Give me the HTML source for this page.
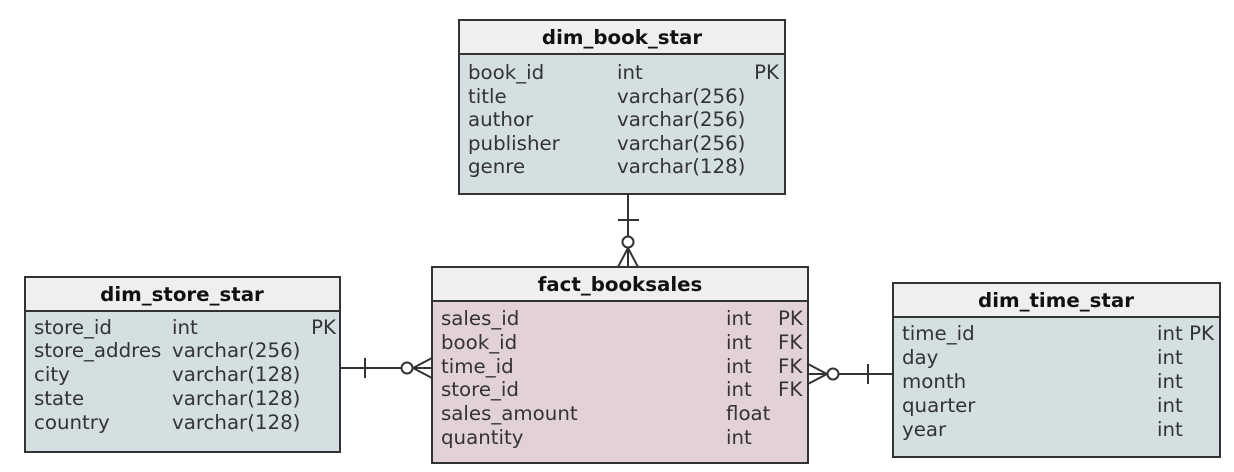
<!DOCTYPE html>
<html><head><meta charset="utf-8"><style>
html,body{margin:0;padding:0;background:#fff;width:1234px;height:472px;overflow:hidden}
svg text{font-family:"DejaVu Sans","Liberation Sans",sans-serif;font-size:19.8px;fill:#333}
svg text.h{font-weight:bold;fill:#111}
</style></head><body>
<svg width="1234" height="472" viewBox="0 0 1234 472" xmlns="http://www.w3.org/2000/svg">
<g stroke="#333" stroke-width="2">
<rect x="459" y="20" width="326" height="174" fill="#d4dfe2"/>
<rect x="459" y="20" width="326" height="34" fill="#efefef"/>
<rect x="432" y="267" width="376" height="196" fill="#e3d1da"/>
<rect x="432" y="267" width="376" height="34" fill="#efefef"/>
<rect x="25" y="277" width="315" height="175" fill="#d4dfe2"/>
<rect x="25" y="277" width="315" height="34" fill="#efefef"/>
<rect x="893" y="283" width="327" height="174" fill="#d4dfe2"/>
<rect x="893" y="283" width="327" height="34" fill="#efefef"/>
</g>
<g stroke="#333" stroke-width="2" fill="none">
<line x1="628" y1="194" x2="628" y2="267"/>
<line x1="618" y1="220" x2="639" y2="220"/>
<circle cx="628" cy="242" r="5.5" fill="#fff"/>
<line x1="628" y1="248" x2="618" y2="267"/><line x1="628" y1="248" x2="638" y2="267"/>
<line x1="340" y1="368" x2="432" y2="368"/>
<line x1="365" y1="358" x2="365" y2="378"/>
<circle cx="407" cy="368" r="5.5" fill="#fff"/>
<line x1="413" y1="368" x2="432" y2="358"/><line x1="413" y1="368" x2="432" y2="378"/>
<line x1="808" y1="374" x2="893" y2="374"/>
<line x1="868" y1="364" x2="868" y2="384"/>
<circle cx="833" cy="374" r="5.5" fill="#fff"/>
<line x1="827" y1="374" x2="808" y2="364"/><line x1="827" y1="374" x2="808" y2="384"/>
</g>
<text class="h" x="622" y="44" text-anchor="middle">dim_book_star</text>
<text x="468" y="79">book_id</text><text x="617" y="79">int</text><text x="779" y="79" text-anchor="end">PK</text>
<text x="468" y="103">title</text><text x="617" y="103">varchar(256)</text>
<text x="468" y="126">author</text><text x="617" y="126">varchar(256)</text>
<text x="468" y="150">publisher</text><text x="617" y="150">varchar(256)</text>
<text x="468" y="173">genre</text><text x="617" y="173">varchar(128)</text>
<text class="h" x="620" y="291" text-anchor="middle">fact_booksales</text>
<text x="441" y="325">sales_id</text><text x="726" y="325">int</text><text x="778" y="325">PK</text>
<text x="441" y="349">book_id</text><text x="726" y="349">int</text><text x="778" y="349">FK</text>
<text x="441" y="373">time_id</text><text x="726" y="373">int</text><text x="778" y="373">FK</text>
<text x="441" y="396">store_id</text><text x="726" y="396">int</text><text x="778" y="396">FK</text>
<text x="441" y="420">sales_amount</text><text x="726" y="420">float</text>
<text x="441" y="444">quantity</text><text x="726" y="444">int</text>
<text class="h" x="182" y="301" text-anchor="middle">dim_store_star</text>
<text x="34" y="334">store_id</text><text x="172" y="334">int</text><text x="336" y="334" text-anchor="end">PK</text>
<text x="34" y="357">store_addres</text><text x="172" y="357">varchar(256)</text>
<text x="34" y="381">city</text><text x="172" y="381">varchar(128)</text>
<text x="34" y="405">state</text><text x="172" y="405">varchar(128)</text>
<text x="34" y="429">country</text><text x="172" y="429">varchar(128)</text>
<text class="h" x="1056" y="307" text-anchor="middle">dim_time_star</text>
<text x="902" y="340">time_id</text><text x="1157" y="340">int PK</text>
<text x="902" y="364">day</text><text x="1157" y="364">int</text>
<text x="902" y="388">month</text><text x="1157" y="388">int</text>
<text x="902" y="412">quarter</text><text x="1157" y="412">int</text>
<text x="902" y="436">year</text><text x="1157" y="436">int</text>
</svg>
</body></html>
